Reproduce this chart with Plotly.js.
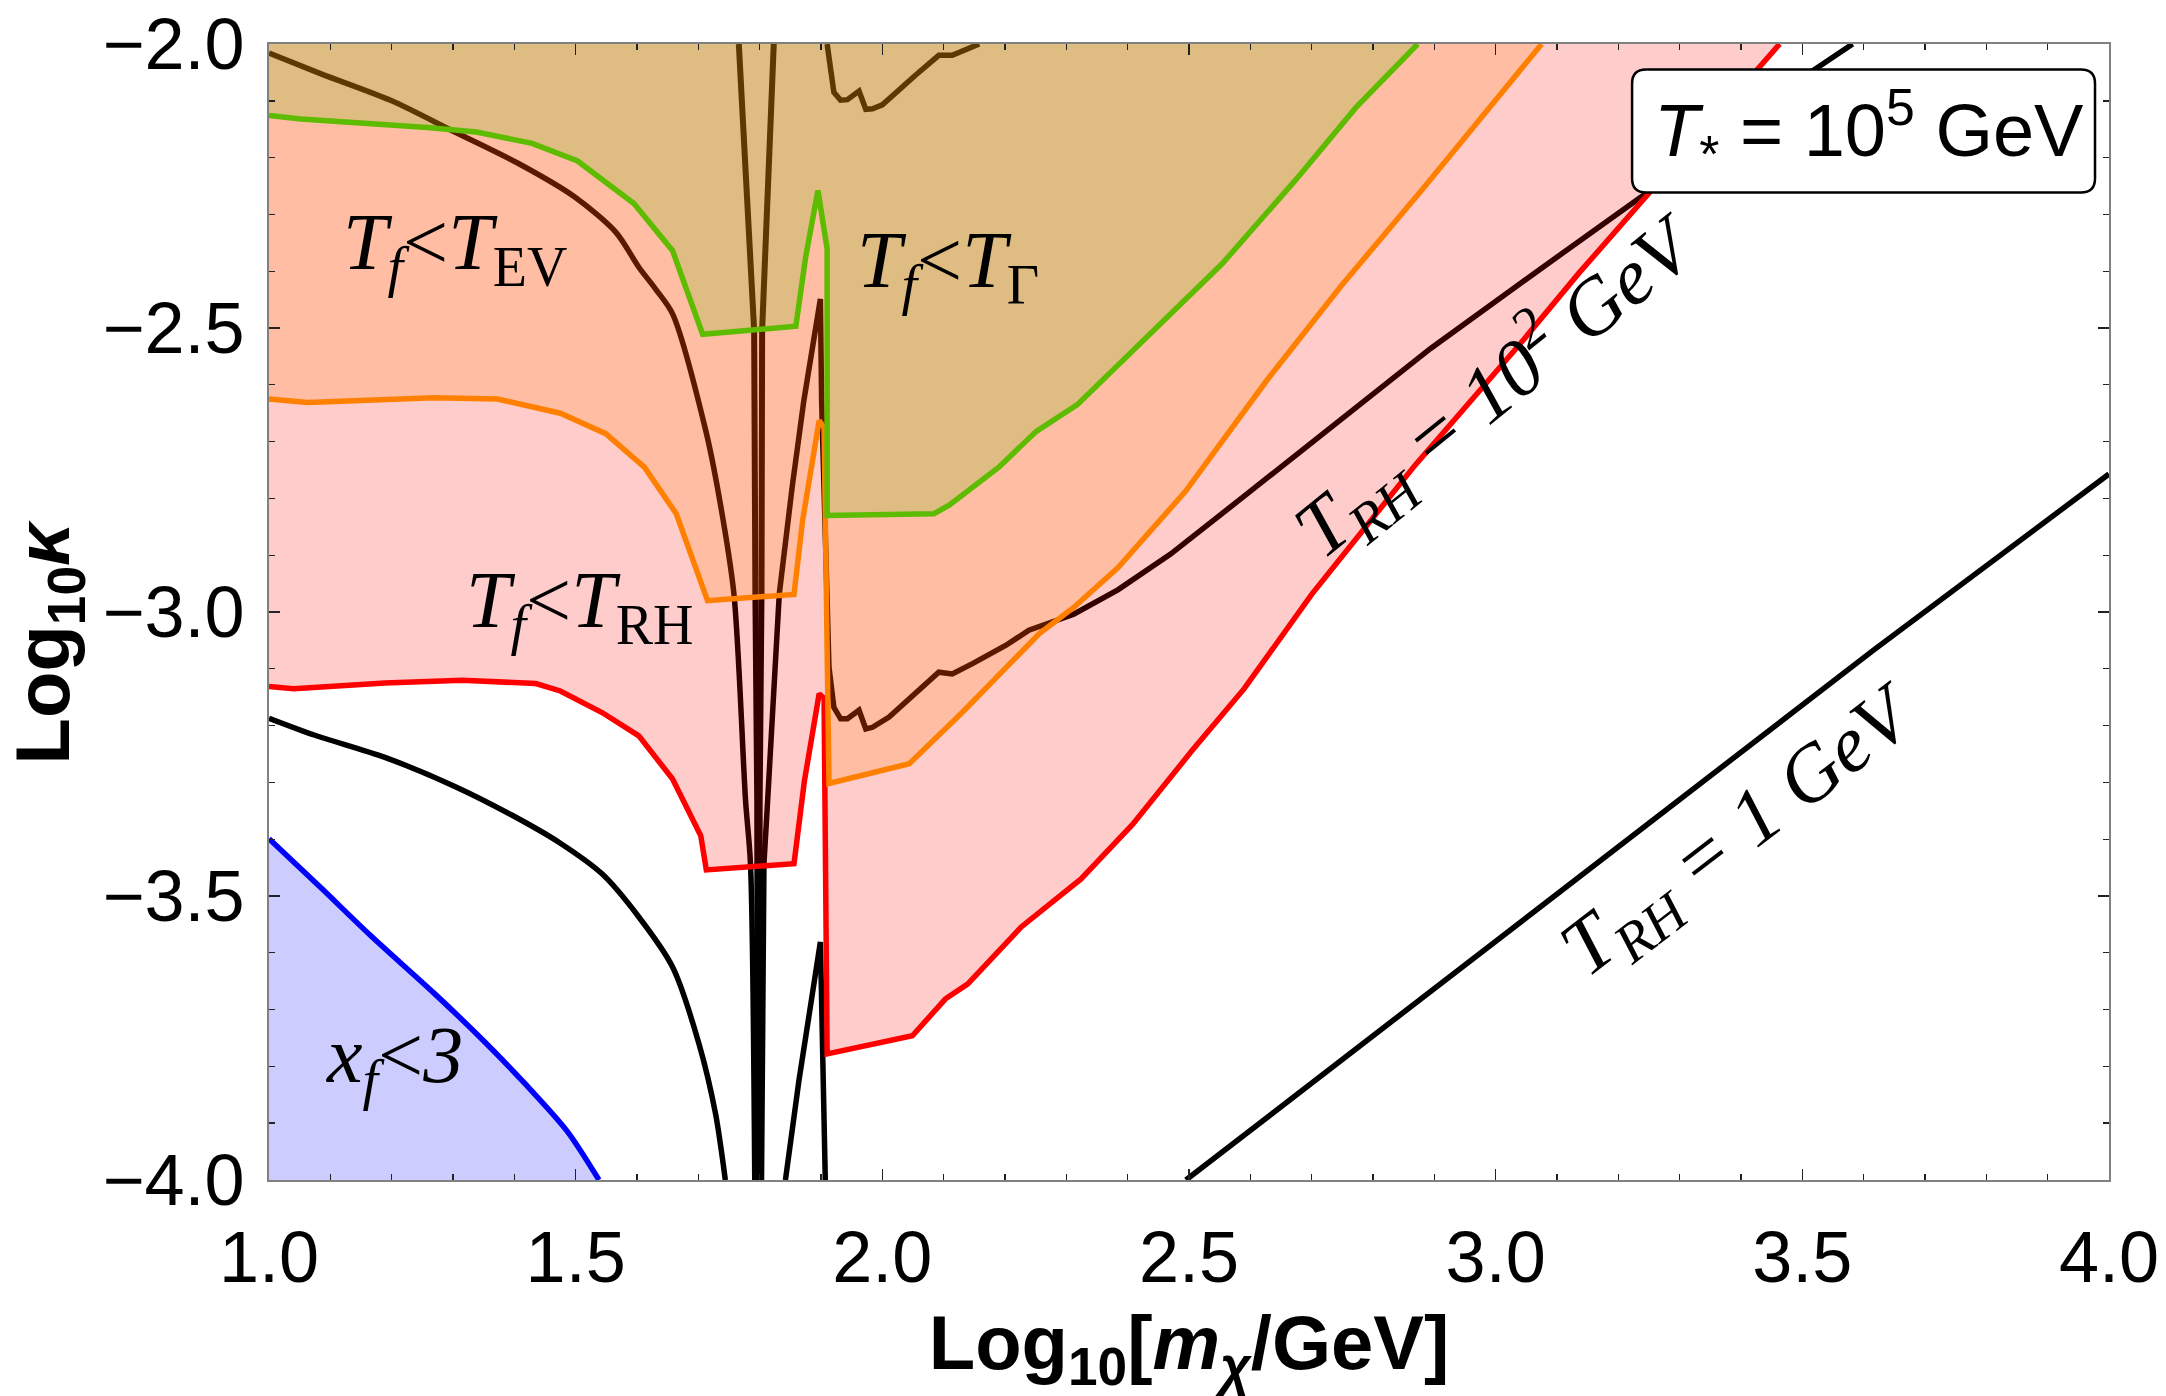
<!DOCTYPE html>
<html>
<head>
<meta charset="utf-8">
<script src="https://cdn.plot.ly/plotly-3.0.1.min.js"></script>
<style>html,body{margin:0;padding:0;background:#fff;}#chart{width:2166px;height:1396px;}</style>
</head>
<body>
<div id="chart"></div>
<script>
// ---------------- data ----------------
const X_RANGE = [1, 4];
const Y_RANGE = [-4, -2];
const X_TICKS = [1.0, 1.5, 2.0, 2.5, 3.0, 3.5, 4.0];
const Y_TICKS = [-4.0, -3.5, -3.0, -2.5, -2.0];

// T_f < T_RH boundary (red)
const redX = [1.0, 1.040, 1.189, 1.315, 1.435, 1.475, 1.543, 1.603, 1.658, 1.704, 1.713, 1.856, 1.873, 1.897, 1.905, 1.910, 2.049, 2.103, 2.139, 2.227, 2.324, 2.408, 2.505, 2.590, 2.700, 2.869, 3.039, 3.136, 3.257, 3.463];
const redY = [-3.131, -3.135, -3.125, -3.120, -3.126, -3.139, -3.177, -3.218, -3.294, -3.394, -3.454, -3.443, -3.297, -3.144, -3.152, -3.778, -3.746, -3.681, -3.655, -3.554, -3.470, -3.374, -3.244, -3.135, -2.969, -2.741, -2.529, -2.403, -2.254, -2.0];

// T_f < T_EV boundary (orange)
const orangeX = [1.0, 1.063, 1.269, 1.372, 1.475, 1.549, 1.612, 1.664, 1.715, 1.856, 1.870, 1.897, 1.905, 1.913, 2.044, 2.071, 2.131, 2.256, 2.312, 2.384, 2.494, 2.627, 2.748, 2.882, 2.990, 3.075];
const orangeY = [-2.625, -2.631, -2.623, -2.625, -2.650, -2.686, -2.745, -2.827, -2.980, -2.969, -2.839, -2.663, -2.675, -3.302, -3.267, -3.238, -3.176, -3.038, -2.992, -2.922, -2.788, -2.592, -2.426, -2.254, -2.112, -2.0];

// T_f < T_Gamma boundary (green)
const greenX = [1.0, 1.052, 1.258, 1.338, 1.429, 1.503, 1.595, 1.658, 1.707, 1.859, 1.875, 1.895, 1.910, 1.910, 2.084, 2.109, 2.190, 2.251, 2.318, 2.457, 2.554, 2.675, 2.772, 2.873];
const greenY = [-2.126, -2.132, -2.147, -2.155, -2.175, -2.206, -2.281, -2.364, -2.511, -2.497, -2.375, -2.258, -2.361, -2.830, -2.827, -2.812, -2.745, -2.682, -2.635, -2.489, -2.387, -2.238, -2.112, -2.0];

// x_f < 3 boundary (blue)
const blueX = [1.0, 1.086, 1.166, 1.269, 1.349, 1.417, 1.486, 1.538];
const blueY = [-3.399, -3.487, -3.570, -3.671, -3.754, -3.830, -3.914, -4.0];

// relic-density contour, T_RH = 10^2 GeV
const c100LeftX = [1.0, 1.086, 1.200, 1.303, 1.406, 1.498, 1.566, 1.603, 1.630, 1.658, 1.712, 1.734, 1.758, 1.777, 1.785, 1.792];
const c100LeftY = [-2.016, -2.053, -2.100, -2.155, -2.210, -2.269, -2.332, -2.393, -2.431, -2.475, -2.680, -2.798, -2.968, -3.332, -3.443, -4.0];
const c100RightX = [1.803, 1.807, 1.813, 1.832, 1.853, 1.872, 1.899, 1.901, 1.913, 1.921, 1.932, 1.943, 1.962, 1.973, 1.984, 2.011, 2.092, 2.114, 2.147, 2.201, 2.239, 2.312, 2.384, 2.470, 2.590, 2.736, 2.894, 3.064, 3.257, 3.517, 3.582];
const c100RightY = [-4.0, -3.443, -3.332, -2.968, -2.780, -2.628, -2.449, -2.628, -3.097, -3.168, -3.188, -3.188, -3.173, -3.206, -3.203, -3.185, -3.106, -3.109, -3.091, -3.059, -3.032, -3.004, -2.961, -2.898, -2.796, -2.670, -2.536, -2.403, -2.254, -2.047, -2.0];

// upper contour (resonance branches and piece above the WW threshold)
const cTopResLX = [1.766, 1.777, 1.785, 1.791, 1.793, 1.796, 1.797];
const cTopResLY = [-2.0, -2.211, -2.387, -2.504, -2.968, -3.332, -4.0];
const cTopResRX = [1.823, 1.815, 1.809, 1.804, 1.803, 1.800, 1.799];
const cTopResRY = [-2.0, -2.211, -2.387, -2.504, -2.968, -3.332, -4.0];
const cTopMidX = [1.796, 1.797, 1.798];
const cTopMidY = [-2.0, -2.5, -2.95];
const cTopWX = [1.910, 1.916, 1.921, 1.932, 1.943, 1.962, 1.973, 1.984, 2.000, 2.054, 2.092, 2.114, 2.158];
const cTopWY = [-2.0, -2.052, -2.085, -2.099, -2.098, -2.083, -2.115, -2.114, -2.107, -2.055, -2.020, -2.020, -2.0];

// relic-density contour, T_RH = 1 GeV
const c1LeftX = [1.0, 1.075, 1.189, 1.303, 1.395, 1.475, 1.543, 1.603, 1.658, 1.701, 1.728, 1.744];
const c1LeftY = [-3.187, -3.217, -3.256, -3.307, -3.357, -3.407, -3.461, -3.537, -3.625, -3.760, -3.883, -4.0];
const c1RightX = [1.842, 1.864, 1.886, 1.899, 1.907];
const c1RightY = [-4.0, -3.825, -3.672, -3.581, -4.0];
const c1LineX = [2.495, 3.615, 4.0];
const c1LineY = [-4.0, -3.068, -2.757];

// ---------------- helpers ----------------
const LW = 5.5;
function closeTo(xs, ys, yEdge) {
  return { x: xs.concat([xs[xs.length - 1], xs[0]]), y: ys.concat([yEdge, yEdge]) };
}
function blackLine(xs, ys, w, smooth) {
  const line = { color: '#000', width: w || LW };
  if (smooth) { line.shape = 'spline'; line.smoothing = 0.8; }
  return { type: 'scatter', mode: 'lines', x: xs, y: ys, line: line, hoverinfo: 'skip', showlegend: false };
}
function fillArea(poly, color) {
  return { type: 'scatter', mode: 'none', x: poly.x, y: poly.y, fill: 'toself', fillcolor: color, hoverinfo: 'skip', showlegend: false };
}
function colLine(xs, ys, color, smooth) {
  const line = { color: color, width: LW };
  if (smooth) { line.shape = 'spline'; line.smoothing = 0.8; }
  return { type: 'scatter', mode: 'lines', x: xs, y: ys, line: line, hoverinfo: 'skip', showlegend: false };
}

const traces = [
  { type: 'scatter', mode: 'lines', x: cTopMidX, y: cTopMidY, line: { color: '#fff', width: 2.5, dash: '5px,5px' }, hoverinfo: 'skip', showlegend: false },
  blackLine(c100LeftX, c100LeftY, LW, true),
  blackLine(c100RightX, c100RightY),
  blackLine(cTopResLX, cTopResLY, 6),
  blackLine(cTopResRX, cTopResRY, 6),
  blackLine(cTopWX, cTopWY),
  blackLine(c1LeftX, c1LeftY, LW, true),
  blackLine(c1RightX, c1RightY),
  blackLine(c1LineX, c1LineY),
  fillArea(closeTo(blueX, blueY, Y_RANGE[0]), 'rgba(0,0,255,0.2)'),
  fillArea(closeTo(redX, redY, Y_RANGE[1]), 'rgba(255,0,0,0.2)'),
  fillArea(closeTo(orangeX, orangeY, Y_RANGE[1]), 'rgba(255,128,0,0.2)'),
  fillArea(closeTo(greenX, greenY, Y_RANGE[1]), 'rgba(93,187,0,0.2)'),
  colLine(redX, redY, '#ff0000'),
  colLine(orangeX, orangeY, '#ff8000'),
  colLine(greenX, greenY, '#5dbb00'),
  colLine(blueX, blueY, '#0000ff', true)
];

// rounded legend-like box (paper coords)
const bx0 = 0.7408, bx1 = 0.9924, by0 = 0.8693, by1 = 0.9776, rx = 0.0076, ry = 0.0123;
const boxPath = `M ${bx0+rx},${by1} L ${bx1-rx},${by1} Q ${bx1},${by1} ${bx1},${by1-ry} L ${bx1},${by0+ry} Q ${bx1},${by0} ${bx1-rx},${by0} L ${bx0+rx},${by0} Q ${bx0},${by0} ${bx0},${by0+ry} L ${bx0},${by1-ry} Q ${bx0},${by1} ${bx0+rx},${by1} Z`;

const serif = 'Liberation Serif, Times New Roman, serif';
const sans = 'Liberation Sans, Arial, sans-serif';

const axisCommon = {
  showgrid: false, zeroline: false,
  showline: true, linecolor: '#808080', linewidth: 2, mirror: 'ticks',
  ticks: 'inside', ticklen: 11, tickwidth: 1.6, tickcolor: '#222',
  tickfont: { family: sans, size: 72, color: '#000' },
  tickformat: '.1f'
};

const layout = {
  width: 2166, height: 1396,
  margin: { l: 269, r: 57, t: 44, b: 216 },
  paper_bgcolor: '#fff', plot_bgcolor: '#fff',
  font: { family: sans, color: '#000' },
  showlegend: false,
  xaxis: Object.assign({}, axisCommon, {
    range: X_RANGE, tickvals: X_TICKS,
    minor: { dtick: 0.1, ticks: 'inside', ticklen: 6, tickwidth: 1.4, tickcolor: '#222' },
    ticklabelstandoff: 14,
    title: { text: '<b>Log<sub>10</sub>[<i>m</i><sub><i>χ</i></sub>/GeV]</b>', font: { family: sans, size: 76, color: '#000' }, standoff: 30 }
  }),
  yaxis: Object.assign({}, axisCommon, {
    range: Y_RANGE, tickvals: Y_TICKS,
    minor: { dtick: 0.1, ticks: 'inside', ticklen: 6, tickwidth: 1.4, tickcolor: '#222' },
    ticklabelstandoff: 8,
    title: { text: '<b>Log<sub>10</sub><i>κ</i>\u00a0\u00a0\u00a0</b>', font: { family: sans, size: 76, color: '#000' }, standoff: 20 }
  }),
  shapes: [
    { type: 'path', xref: 'paper', yref: 'paper', path: boxPath, fillcolor: '#fff', line: { color: '#000', width: 2.5 }, layer: 'above' }
  ],
  annotations: [
    { xref: 'paper', yref: 'paper', x: 0.8696, y: 0.924, xanchor: 'center', yanchor: 'middle', showarrow: false,
      text: '<i>T</i><sub>*</sub> = 10<sup>5</sup> GeV', font: { family: sans, size: 74, color: '#000' } },
    { x: 1.303, y: -2.36, xref: 'x', yref: 'y', showarrow: false, xanchor: 'center', yanchor: 'middle',
      text: '<i>T</i><sub><i>f</i></sub>&lt;<i>T</i><sub>EV</sub>', font: { family: serif, size: 80, color: '#000' } },
    { x: 2.107, y: -2.39, xref: 'x', yref: 'y', showarrow: false, xanchor: 'center', yanchor: 'middle',
      text: '<i>T</i><sub><i>f</i></sub>&lt;<i>T</i><sub>Γ</sub>', font: { family: serif, size: 80, color: '#000' } },
    { x: 1.506, y: -2.99, xref: 'x', yref: 'y', showarrow: false, xanchor: 'center', yanchor: 'middle',
      text: '<i>T</i><sub><i>f</i></sub>&lt;<i>T</i><sub>RH</sub>', font: { family: serif, size: 80, color: '#000' } },
    { x: 1.205, y: -3.79, xref: 'x', yref: 'y', showarrow: false, xanchor: 'center', yanchor: 'middle',
      text: '<i>x</i><sub><i>f</i></sub>&lt;<i>3</i>', font: { family: serif, size: 80, color: '#000' } },
    { x: 3.0, y: -2.60, xref: 'x', yref: 'y', showarrow: false, xanchor: 'center', yanchor: 'middle', textangle: -39,
      text: '<i>T</i><sub><i>RH</i></sub><i> = 10</i><sup><i>2</i></sup><i> GeV</i>', font: { family: serif, size: 80, color: '#000' } },
    { x: 3.40, y: -3.39, xref: 'x', yref: 'y', showarrow: false, xanchor: 'center', yanchor: 'middle', textangle: -37.5,
      text: '<i>T</i><sub><i>RH</i></sub><i> = 1 GeV</i>', font: { family: serif, size: 80, color: '#000' } }
  ]
};

Plotly.newPlot('chart', traces, layout, { staticPlot: true, displayModeBar: false });
</script>
</body>
</html>
